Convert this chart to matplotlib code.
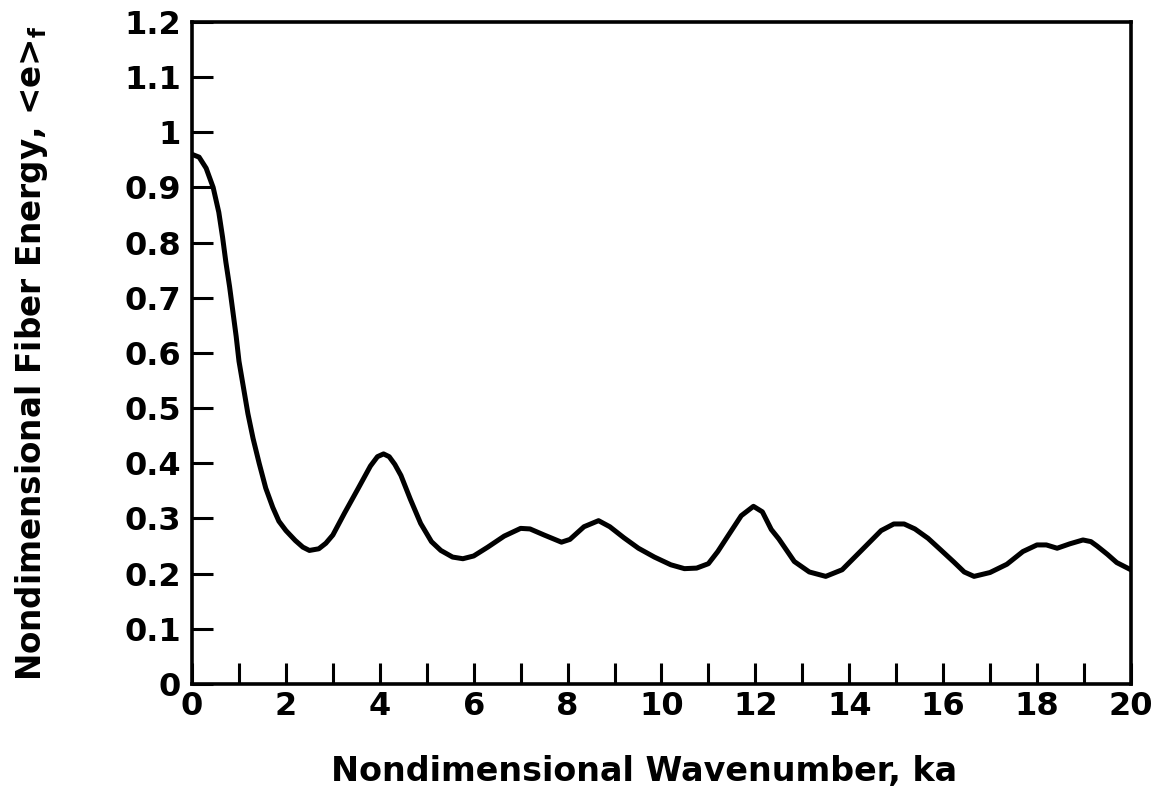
import matplotlib.pyplot as plt
from matplotlib.ticker import FixedLocator

plt.rcParams['font.family'] = ['DejaVu Sans']
plt.rcParams['mathtext.default'] = 'regular'

# values
ka = [0.0, 0.15, 0.3, 0.45, 0.57, 0.65, 0.72, 0.8, 0.87, 0.94,
      1.0, 1.1, 1.19, 1.3, 1.43, 1.57, 1.72, 1.85, 2.0, 2.2,
      2.36, 2.5, 2.7, 2.85, 3.0, 3.25, 3.53, 3.8, 3.95, 4.08,
      4.2, 4.32, 4.45, 4.65, 4.87, 5.1, 5.3, 5.55, 5.77, 6.0,
      6.3, 6.65, 7.0, 7.2, 7.5, 7.87, 8.05, 8.35, 8.66, 8.9,
      9.2, 9.51, 9.85, 10.2, 10.49, 10.75, 11.0, 11.2, 11.43, 11.7,
      11.96, 12.15, 12.34, 12.5, 12.83, 13.15, 13.5, 13.85, 14.26, 14.68,
      14.95, 15.17, 15.4, 15.68, 15.95, 16.23, 16.45, 16.66, 17.0, 17.36,
      17.7, 18.0, 18.2, 18.43, 18.7, 18.98, 19.15, 19.28, 19.5, 19.7,
      20.0]
energy = [0.960, 0.955, 0.935, 0.900, 0.855, 0.810, 0.765, 0.720, 0.675, 0.630,
          0.585, 0.535, 0.490, 0.445, 0.400, 0.355, 0.320, 0.295, 0.278, 0.260,
          0.248, 0.242, 0.245, 0.255, 0.270, 0.310, 0.353, 0.395, 0.412, 0.417,
          0.412, 0.398, 0.378, 0.335, 0.291, 0.258, 0.242, 0.230, 0.227, 0.232,
          0.248, 0.268, 0.282, 0.281, 0.270, 0.257, 0.262, 0.285, 0.296, 0.285,
          0.265, 0.246, 0.230, 0.216, 0.209, 0.210, 0.218, 0.240, 0.270, 0.305,
          0.322, 0.312, 0.280, 0.263, 0.222, 0.203, 0.195, 0.207, 0.242, 0.278,
          0.290, 0.290, 0.281, 0.264, 0.243, 0.221, 0.203, 0.195, 0.202, 0.217,
          0.240, 0.252, 0.252, 0.246, 0.254, 0.261, 0.258, 0.250, 0.235, 0.220,
          0.207]

x_ticks = [0, 2, 4, 6, 8, 10, 12, 14, 16, 18, 20]
x_labels = ['0', '2', '4', '6', '8', '10', '12', '14', '16', '18', '20']
y_ticks = [0, 0.1, 0.2, 0.3, 0.4, 0.5, 0.6, 0.7, 0.8, 0.9, 1.0, 1.1, 1.2]
y_labels = ['0', '0.1', '0.2', '0.3', '0.4', '0.5', '0.6',
            '0.7', '0.8', '0.9', '1', '1.1', '1.2']

fig = plt.figure(figsize=(11.59, 7.99), dpi=100)
ax = fig.add_axes([0.1657, 0.144, 0.81, 0.8285])

ax.plot(ka, energy, color='black', linewidth=3.6, solid_capstyle='round')

ax.set_xlim(0, 20)
ax.set_ylim(0, 1.2)

ax.xaxis.set_major_locator(FixedLocator(x_ticks))
ax.set_xticklabels(x_labels, fontweight='bold')
ax.xaxis.set_minor_locator(FixedLocator(range(0, 21)))
ax.yaxis.set_major_locator(FixedLocator(y_ticks))
ax.set_yticklabels(y_labels, fontweight='bold')

ax.tick_params(axis='both', which='both', direction='in', length=15,
               width=2.2, top=False, right=False, labelsize=23)
ax.tick_params(axis='x', which='major', pad=5)
ax.tick_params(axis='y', which='major', pad=8)

for side in ['left', 'right', 'top', 'bottom']:
    ax.spines[side].set_linewidth(2.6)

ax.set_xlabel("Nondimensional Wavenumber, ka", fontsize=24, fontweight='bold')
ax.set_ylabel("Nondimensional Fiber Energy, <e>$_f$", fontsize=23.5, fontweight='bold')
ax.xaxis.set_label_coords(0.482, -0.107)
ax.yaxis.set_label_coords(-0.151, 0.5)

fig.savefig('out.png', dpi=100)
